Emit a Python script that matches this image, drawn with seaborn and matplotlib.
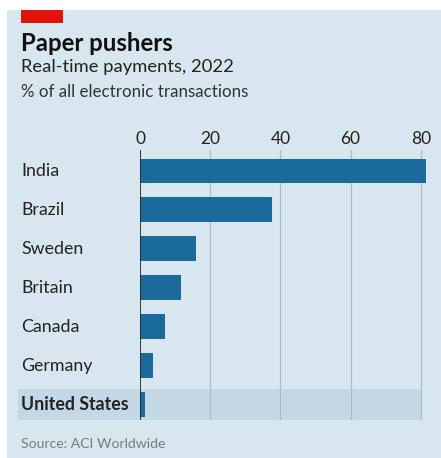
import matplotlib
matplotlib.use("Agg")
import matplotlib.pyplot as plt
import matplotlib.transforms as mtransforms
from matplotlib.patches import Rectangle
import seaborn as sns
import pandas as pd

countries = ["India", "Brazil", "Sweden", "Britain", "Canada", "Germany", "United States"]
values = [81.6, 37.5, 16.0, 11.7, 7.1, 3.8, 1.5]
xticks = [0, 20, 40, 60, 80]
highlight = "United States"

title = "Paper pushers"
subtitle = "Real-time payments, 2022"
unit = "% of all electronic transactions"
source = "Source: ACI Worldwide"

BG = "#d7e6ef"
BAND = "#c3d7e5"
BAR = "#1b6a9c"
FONT = "Lato"

sns.set_theme(style="white")
plt.rcParams["font.family"] = [FONT, "DejaVu Sans"]

W, H = 441, 458
fig = plt.figure(figsize=(W / 100, H / 100), dpi=100)
fig.patch.set_facecolor("white")
fig.patches.append(Rectangle((7 / W, 0), 1 - 7 / W, 1 - 10 / H, transform=fig.transFigure,
                             facecolor=BG, edgecolor="none", zorder=-10))
fig.patches.append(Rectangle((21 / W, 1 - 23 / H), 42 / W, 13 / H, transform=fig.transFigure,
                             facecolor="#e3120b", edgecolor="none", zorder=-5))

x0, x80 = 140, 420.7
ppu = (x80 - x0) / 80
xmax = 82.5
left = x0 / W
right = (x0 + xmax * ppu) / W
top = 1 - 150 / H
bottom = 1 - 420 / H
ax = fig.add_axes([left, bottom, right - left, top - bottom])
ax.set_facecolor("none")

df = pd.DataFrame({"country": countries, "value": values})
sns.barplot(data=df, x="value", y="country", orient="h", color=BAR, width=0.64,
            saturation=1, linewidth=0, edgecolor="none", ax=ax, zorder=3)
ax.set_xlim(0, xmax)
ax.set_ylim(len(countries) - 1 + 0.40, -0.54)

for s in ax.spines.values():
    s.set_visible(False)
ax.set_xlabel("")
ax.set_ylabel("")
ax.set_xticks(xticks)
ax.xaxis.tick_top()
ax.tick_params(axis="x", length=0, pad=2.5, labelsize=12.5, labelcolor="#222222")
ax.set_yticks([])
for t in xticks:
    ax.axvline(t, color="#aebcc6" if t else "#2a2a2a", lw=0.9 if t else 1.3,
               zorder=2 if t else 5)

blend = mtransforms.blended_transform_factory(fig.transFigure, ax.transData)
hi = countries.index(highlight)
ax.add_patch(Rectangle((18 / W, hi - 0.39), (x80 - 18) / W, 0.78, transform=blend,
                       facecolor=BAND, edgecolor="none", zorder=1, clip_on=False))
for i, c in enumerate(countries):
    ax.text(21 / W, i, c, transform=blend, ha="left", va="center", fontsize=12.8,
            color="#222222", fontweight="bold" if c == highlight else "normal")

fig.text(21 / W, 1 - 51 / H, title, fontsize=17.2, fontweight="bold", color="#111111",
         va="baseline", ha="left")
fig.text(21 / W, 1 - 72 / H, subtitle, fontsize=13.2, color="#222222", va="baseline", ha="left")
fig.text(21 / W, 1 - 97 / H, unit, fontsize=12.2, color="#333333", va="baseline", ha="left")
fig.text(21 / W, 1 - 448 / H, source, fontsize=10.1, color="#7a7a7a", va="baseline", ha="left")

fig.savefig("out.png", dpi=100, facecolor=fig.get_facecolor())
